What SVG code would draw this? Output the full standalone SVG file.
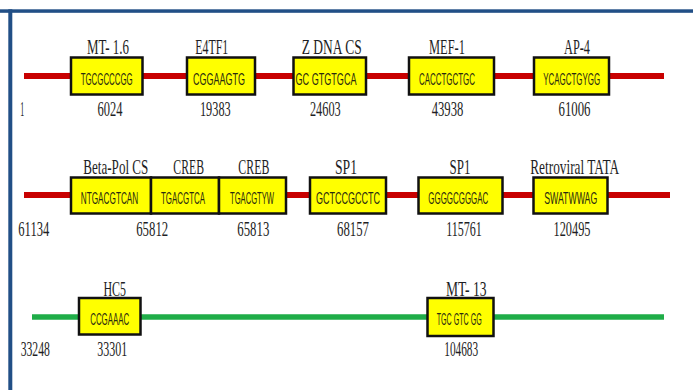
<svg xmlns="http://www.w3.org/2000/svg" width="693" height="390" viewBox="0 0 693 390">
<style>
.frame{fill:#214f86}
.red{stroke:#c80000;stroke-width:6;fill:none}
.green{stroke:#1fad48;stroke-width:5.5;fill:none}
.box{fill:#ffff00;stroke:#111;stroke-width:2.5}
.lab{font-family:"Liberation Serif","Times New Roman",serif;font-size:21px;fill:#1e1e24;text-anchor:middle}
.num{font-family:"Liberation Serif","Times New Roman",serif;font-size:20px;fill:#1e1e24;text-anchor:middle}
.seq{font-family:"Liberation Sans",Arial,sans-serif;font-size:16px;fill:#2a2a10;text-anchor:middle}
</style>
<rect width="693" height="390" fill="#ffffff"/>
<rect class="frame" x="0" y="9.3" width="693" height="3.5"/>
<rect class="frame" x="8.3" y="9.3" width="4" height="381"/>

<g id="connectors">
<line class="red" x1="24" y1="76" x2="664" y2="76"/>
<line class="red" x1="24" y1="195" x2="670" y2="195"/>
<line class="green" x1="32" y1="317" x2="664" y2="317"/>
</g>

<g id="row-starts">
<text class="num" transform="translate(22.3,115.5) scale(0.64,1)" textLength="6.2" lengthAdjust="spacingAndGlyphs">1</text>
<text class="num" transform="translate(33.8,236) scale(0.64,1)" textLength="48.4" lengthAdjust="spacingAndGlyphs">61134</text>
<text class="num" transform="translate(35.3,355.5) scale(0.64,1)" textLength="45.8" lengthAdjust="spacingAndGlyphs">33248</text>
</g>

<g id="mt16">
<rect class="box" x="71" y="57.5" width="71.5" height="37"/>
<text class="lab" transform="translate(108,54) scale(0.58,1)" textLength="72.4" lengthAdjust="spacingAndGlyphs">MT- 1.6</text>
<text class="seq" transform="translate(106.7,84.5) scale(0.5,1)" textLength="104" lengthAdjust="spacingAndGlyphs">TGCGCCCGG</text>
<text class="num" transform="translate(110,115.5) scale(0.64,1)" textLength="39" lengthAdjust="spacingAndGlyphs">6024</text>
</g>
<g id="e4tf1">
<rect class="box" x="187" y="57.5" width="68" height="37"/>
<text class="lab" transform="translate(211.7,54) scale(0.58,1)" textLength="56.9" lengthAdjust="spacingAndGlyphs">E4TF1</text>
<text class="seq" transform="translate(219,84.5) scale(0.5,1)" textLength="104" lengthAdjust="spacingAndGlyphs">CGGAAGTG</text>
<text class="num" transform="translate(215.3,115.5) scale(0.64,1)" textLength="48" lengthAdjust="spacingAndGlyphs">19383</text>
</g>
<g id="zdna">
<rect class="box" x="293.5" y="57.5" width="72.5" height="37"/>
<text class="lab" transform="translate(331.7,54) scale(0.58,1)" textLength="103.4" lengthAdjust="spacingAndGlyphs">Z DNA  CS</text>
<text class="seq" transform="translate(326,84.5) scale(0.5,1)" textLength="122" lengthAdjust="spacingAndGlyphs">GC GTGTGCA</text>
<text class="num" transform="translate(325.3,115.5) scale(0.64,1)" textLength="48" lengthAdjust="spacingAndGlyphs">24603</text>
</g>
<g id="mef1">
<rect class="box" x="409" y="57.5" width="85" height="37"/>
<text class="lab" transform="translate(447,54) scale(0.58,1)" textLength="62" lengthAdjust="spacingAndGlyphs">MEF-1</text>
<text class="seq" transform="translate(447,84.5) scale(0.5,1)" textLength="112" lengthAdjust="spacingAndGlyphs">CACCTGCTGC</text>
<text class="num" transform="translate(447.5,115.5) scale(0.64,1)" textLength="49.5" lengthAdjust="spacingAndGlyphs">43938</text>
</g>
<g id="ap4">
<rect class="box" x="534" y="57.5" width="75" height="37"/>
<text class="lab" transform="translate(577,54) scale(0.58,1)" textLength="44.8" lengthAdjust="spacingAndGlyphs">AP-4</text>
<text class="seq" transform="translate(571.7,84.5) scale(0.5,1)" textLength="114" lengthAdjust="spacingAndGlyphs">YCAGCTGYGG</text>
<text class="num" transform="translate(574.5,115.5) scale(0.64,1)" textLength="50" lengthAdjust="spacingAndGlyphs">61006</text>
</g>

<g id="betapol">
<rect class="box" x="71" y="177.5" width="80" height="36"/>
<text class="lab" transform="translate(115.8,173.5) scale(0.58,1)" textLength="112" lengthAdjust="spacingAndGlyphs">Beta-Pol  CS</text>
<text class="seq" transform="translate(109.5,204) scale(0.5,1)" textLength="115" lengthAdjust="spacingAndGlyphs">NTGACGTCAN</text>
</g>
<g id="creb1">
<rect class="box" x="151" y="177.5" width="68" height="36"/>
<text class="lab" transform="translate(188.7,173.5) scale(0.58,1)" textLength="53" lengthAdjust="spacingAndGlyphs">CREB</text>
<text class="seq" transform="translate(183,204) scale(0.5,1)" textLength="88" lengthAdjust="spacingAndGlyphs">TGACGTCA</text>
<text class="num" transform="translate(152.2,236) scale(0.64,1)" textLength="50" lengthAdjust="spacingAndGlyphs">65812</text>
</g>
<g id="creb2">
<rect class="box" x="219" y="177.5" width="67" height="36"/>
<text class="lab" transform="translate(253.8,173.5) scale(0.58,1)" textLength="53.4" lengthAdjust="spacingAndGlyphs">CREB</text>
<text class="seq" transform="translate(252,204) scale(0.5,1)" textLength="88" lengthAdjust="spacingAndGlyphs">TGACGTYW</text>
<text class="num" transform="translate(253.3,236) scale(0.64,1)" textLength="50" lengthAdjust="spacingAndGlyphs">65813</text>
</g>
<g id="sp1a">
<rect class="box" x="310" y="177.5" width="76" height="36"/>
<text class="lab" transform="translate(346,173.5) scale(0.58,1)" textLength="38" lengthAdjust="spacingAndGlyphs">SP1</text>
<text class="seq" transform="translate(348,204) scale(0.5,1)" textLength="128" lengthAdjust="spacingAndGlyphs">GCTCCGCCTC</text>
<text class="num" transform="translate(353,236) scale(0.64,1)" textLength="50" lengthAdjust="spacingAndGlyphs">68157</text>
</g>
<g id="sp1b">
<rect class="box" x="418.5" y="177.5" width="84" height="36"/>
<text class="lab" transform="translate(460,173.5) scale(0.58,1)" textLength="36" lengthAdjust="spacingAndGlyphs">SP1</text>
<text class="seq" transform="translate(458.3,204) scale(0.5,1)" textLength="120" lengthAdjust="spacingAndGlyphs">GGGGCGGGAC</text>
<text class="num" transform="translate(464,236) scale(0.64,1)" textLength="55.8" lengthAdjust="spacingAndGlyphs">115761</text>
</g>
<g id="retrotata">
<rect class="box" x="533.5" y="177.5" width="74" height="36"/>
<text class="lab" transform="translate(574.7,173.5) scale(0.58,1)" textLength="153.4" lengthAdjust="spacingAndGlyphs">Retroviral  TATA</text>
<text class="seq" transform="translate(570.7,204) scale(0.5,1)" textLength="106" lengthAdjust="spacingAndGlyphs">SWATWWAG</text>
<text class="num" transform="translate(572,236) scale(0.64,1)" textLength="57.8" lengthAdjust="spacingAndGlyphs">120495</text>
</g>

<g id="hc5">
<rect class="box" x="79" y="298" width="61.5" height="36.5"/>
<text class="lab" transform="translate(114.7,296) scale(0.58,1)" textLength="39" lengthAdjust="spacingAndGlyphs">HC5</text>
<text class="seq" transform="translate(109.7,325) scale(0.5,1)" textLength="78" lengthAdjust="spacingAndGlyphs">CCGAAAC</text>
<text class="num" transform="translate(112.3,355.5) scale(0.64,1)" textLength="46.9" lengthAdjust="spacingAndGlyphs">33301</text>
</g>
<g id="mt13">
<rect class="box" x="427.5" y="298" width="66" height="38"/>
<text class="lab" transform="translate(466.3,296) scale(0.58,1)" textLength="70" lengthAdjust="spacingAndGlyphs">MT- 13</text>
<text class="seq" transform="translate(459.2,325) scale(0.5,1)" textLength="90" lengthAdjust="spacingAndGlyphs">TGC GTC GG</text>
<text class="num" transform="translate(461.2,355.5) scale(0.64,1)" textLength="53" lengthAdjust="spacingAndGlyphs">104683</text>
</g>
</svg>
